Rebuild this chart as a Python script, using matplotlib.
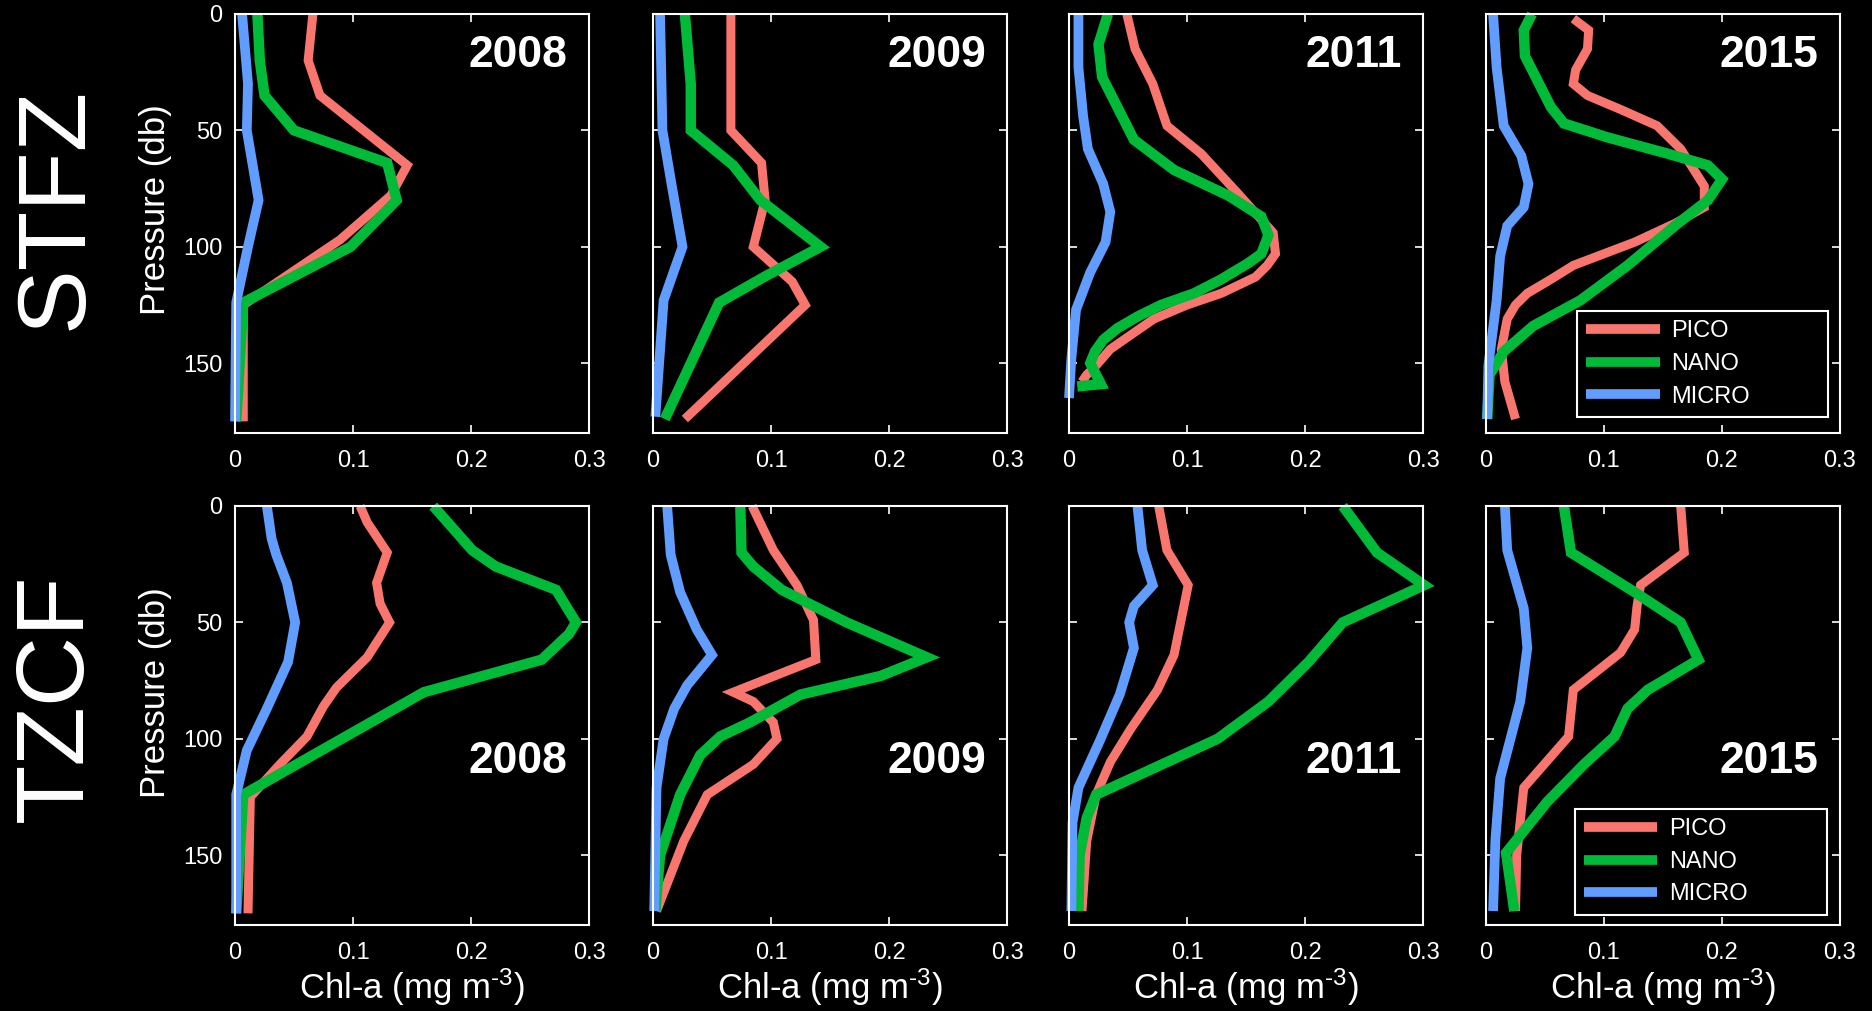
import matplotlib
matplotlib.use('Agg')
import matplotlib.pyplot as plt

plt.rcParams['font.family'] = ['Liberation Sans', 'DejaVu Sans']
plt.rcParams['mathtext.fontset'] = 'custom'
plt.rcParams['mathtext.rm'] = 'Liberation Sans'
plt.rcParams['mathtext.it'] = 'Liberation Sans:italic'

years = ['2008', '2009', '2011', '2015']
zones = ['STFZ', 'TZCF']
groups = ['PICO', 'NANO', 'MICRO']

# ---- STFZ ----
stfz08_pico_z = [0, 20, 35, 65, 78, 97, 125, 175]
stfz08_pico = [0.066, 0.062, 0.072, 0.146, 0.132, 0.089, 0.007, 0.007]
stfz08_nano_z = [0, 20, 35, 50, 64, 80, 100, 124, 175]
stfz08_nano = [0.019, 0.021, 0.025, 0.050, 0.129, 0.137, 0.098, 0.007, 0.001]
stfz08_micro_z = [0, 30, 50, 80, 100, 124, 175]
stfz08_micro = [0.006, 0.011, 0.010, 0.020, 0.011, 0.001, 0.0]

stfz09_pico_z = [0, 50, 64, 80, 100, 115, 125, 174]
stfz09_pico = [0.066, 0.066, 0.092, 0.095, 0.085, 0.118, 0.129, 0.027]
stfz09_nano_z = [0, 30, 50, 65, 80, 100, 113, 124, 174]
stfz09_nano = [0.027, 0.032, 0.032, 0.068, 0.091, 0.142, 0.094, 0.056, 0.010]
stfz09_micro_z = [0, 50, 74, 100, 123, 173]
stfz09_micro = [0.006, 0.008, 0.016, 0.025, 0.009, 0.002]

stfz11_pico_z = [0, 15, 30, 48, 60, 77, 94, 103, 108, 113, 120, 125, 131, 138, 144, 151, 155, 158]
stfz11_pico = [0.049, 0.056, 0.071, 0.083, 0.112, 0.143, 0.173, 0.175, 0.168, 0.158, 0.129, 0.100,
               0.072, 0.052, 0.035, 0.023, 0.015, 0.011]
stfz11_nano_z = [0, 13, 27, 40, 54, 67, 78, 87, 95, 103, 107, 114, 120, 125, 130, 135, 140, 145,
                 150, 159, 160]
stfz11_nano = [0.033, 0.025, 0.028, 0.041, 0.055, 0.089, 0.135, 0.163, 0.169, 0.163, 0.152, 0.129,
               0.106, 0.078, 0.058, 0.041, 0.029, 0.022, 0.018, 0.027, 0.007]
stfz11_micro_z = [0, 23, 44, 58, 73, 85, 98, 111, 127, 148, 165]
stfz11_micro = [0.008, 0.008, 0.012, 0.016, 0.029, 0.035, 0.031, 0.018, 0.006, 0.002, 0.0]

stfz15_pico_z = [2, 7, 15, 24, 30, 35, 41, 48, 58, 74, 83, 90, 94, 98, 103, 108, 114, 120, 125,
                 131, 144, 158, 174]
stfz15_pico = [0.074, 0.087, 0.086, 0.076, 0.074, 0.086, 0.114, 0.145, 0.165, 0.185, 0.185, 0.160,
               0.143, 0.126, 0.100, 0.074, 0.055, 0.035, 0.025, 0.018, 0.013, 0.016, 0.025]
stfz15_nano_z = [0, 7, 18, 30, 40, 47, 53, 60, 65, 71, 80, 91, 108, 123, 134, 145, 155, 174]
stfz15_nano = [0.039, 0.032, 0.033, 0.045, 0.055, 0.066, 0.103, 0.154, 0.188, 0.200, 0.188, 0.160,
               0.120, 0.080, 0.040, 0.015, 0.003, 0.001]
stfz15_micro_z = [0, 23, 48, 61, 73, 83, 91, 104, 123, 151, 174]
stfz15_micro = [0.006, 0.009, 0.015, 0.030, 0.036, 0.032, 0.018, 0.012, 0.009, 0.002, 0.001]

# ---- TZCF ----
tzcf08_pico_z = [0, 7, 20, 33, 42, 50, 65, 78, 86, 99, 111, 125, 175]
tzcf08_pico = [0.106, 0.112, 0.129, 0.120, 0.123, 0.131, 0.112, 0.086, 0.075, 0.061, 0.038, 0.013, 0.011]
tzcf08_nano_z = [0, 19, 26, 36, 50, 55, 66, 80, 124, 175]
tzcf08_nano = [0.168, 0.201, 0.221, 0.272, 0.289, 0.283, 0.260, 0.160, 0.007, 0.001]
tzcf08_micro_z = [0, 14, 21, 33, 50, 67, 87, 105, 124, 175]
tzcf08_micro = [0.027, 0.031, 0.035, 0.044, 0.051, 0.045, 0.027, 0.010, 0.001, 0.001]

tzcf09_pico_z = [0, 19, 34, 49, 66, 80, 84, 93, 100, 111, 124, 144, 174]
tzcf09_pico = [0.084, 0.102, 0.122, 0.136, 0.138, 0.068, 0.085, 0.102, 0.105, 0.085, 0.046, 0.026, 0.003]
tzcf09_nano_z = [0, 20, 26, 36, 50, 65, 73, 81, 93, 99, 107, 124, 150, 174]
tzcf09_nano = [0.074, 0.075, 0.085, 0.109, 0.164, 0.232, 0.193, 0.125, 0.082, 0.057, 0.040, 0.023, 0.006, 0.002]
tzcf09_micro_z = [0, 21, 37, 53, 64, 77, 87, 100, 121, 174]
tzcf09_micro = [0.012, 0.015, 0.023, 0.037, 0.050, 0.029, 0.018, 0.009, 0.003, 0.001]

tzcf11_pico_z = [0, 19, 34, 49, 64, 79, 96, 110, 124, 144, 174]
tzcf11_pico = [0.076, 0.083, 0.101, 0.095, 0.089, 0.075, 0.052, 0.035, 0.023, 0.015, 0.011]
tzcf11_nano_z = [0, 20, 34, 50, 67, 84, 100, 124, 134, 150, 174]
tzcf11_nano = [0.232, 0.261, 0.301, 0.232, 0.203, 0.169, 0.126, 0.023, 0.015, 0.009, 0.008]
tzcf11_micro_z = [0, 19, 34, 43, 50, 61, 81, 101, 121, 136, 174]
tzcf11_micro = [0.058, 0.062, 0.071, 0.055, 0.051, 0.055, 0.043, 0.026, 0.008, 0.003, 0.002]

tzcf15_pico_z = [0, 20, 34, 43, 53, 63, 79, 99, 121, 150, 174]
tzcf15_pico = [0.165, 0.168, 0.131, 0.128, 0.126, 0.114, 0.074, 0.070, 0.032, 0.026, 0.025]
tzcf15_nano_z = [0, 20, 37, 50, 66, 79, 87, 99, 111, 127, 149, 174]
tzcf15_nano = [0.066, 0.072, 0.126, 0.165, 0.180, 0.137, 0.120, 0.109, 0.083, 0.052, 0.017, 0.024]
tzcf15_micro_z = [0, 19, 44, 61, 84, 117, 143, 174]
tzcf15_micro = [0.016, 0.018, 0.032, 0.035, 0.029, 0.012, 0.008, 0.006]

panels = [
    [(stfz08_pico_z, stfz08_pico, stfz08_nano_z, stfz08_nano, stfz08_micro_z, stfz08_micro),
     (stfz09_pico_z, stfz09_pico, stfz09_nano_z, stfz09_nano, stfz09_micro_z, stfz09_micro),
     (stfz11_pico_z, stfz11_pico, stfz11_nano_z, stfz11_nano, stfz11_micro_z, stfz11_micro),
     (stfz15_pico_z, stfz15_pico, stfz15_nano_z, stfz15_nano, stfz15_micro_z, stfz15_micro)],
    [(tzcf08_pico_z, tzcf08_pico, tzcf08_nano_z, tzcf08_nano, tzcf08_micro_z, tzcf08_micro),
     (tzcf09_pico_z, tzcf09_pico, tzcf09_nano_z, tzcf09_nano, tzcf09_micro_z, tzcf09_micro),
     (tzcf11_pico_z, tzcf11_pico, tzcf11_nano_z, tzcf11_nano, tzcf11_micro_z, tzcf11_micro),
     (tzcf15_pico_z, tzcf15_pico, tzcf15_nano_z, tzcf15_nano, tzcf15_micro_z, tzcf15_micro)],
]

colors = ['#F8766D', '#00BA38', '#619CFF']
widths = [6.5, 7.5, 7.0]

W, H = 1872, 1011
fig = plt.figure(figsize=(W / 100, H / 100), dpi=100, facecolor='black')

col_left = [235, 653, 1069, 1486]
row_top = [14, 506]
aw, ah = 354, 419

for r in range(2):
    for c in range(4):
        x0 = col_left[c] / W
        y0 = 1 - (row_top[r] + ah) / H
        ax = fig.add_axes([x0, y0, aw / W, ah / H], facecolor='black')
        d = panels[r][c]
        for k in range(3):
            ax.plot(d[2 * k + 1], d[2 * k], color=colors[k], lw=widths[k],
                    solid_capstyle='butt', solid_joinstyle='miter', clip_on=False,
                    label=groups[k])
        ax.set_xlim(0, 0.3)
        ax.set_ylim(180, 0)
        ax.set_xticks([0, 0.1, 0.2, 0.3])
        ax.set_xticklabels(['0', '0.1', '0.2', '0.3'])
        ax.set_yticks([0, 50, 100, 150])
        for s in ax.spines.values():
            s.set_color('white')
            s.set_linewidth(1.5)
        ax.tick_params(direction='in', length=6, width=1.2, colors='white',
                       top=True, right=True, labelsize=17)
        ax.tick_params(axis='x', pad=12)
        ax.tick_params(axis='y', pad=9)
        if c > 0:
            ax.set_yticklabels([])
        if r == 0:
            ax.text(0.94, 0.95, years[c], transform=ax.transAxes, ha='right', va='top',
                    fontsize=32, fontweight='bold', color='white')
        else:
            ax.text(0.94, 0.39, years[c], transform=ax.transAxes, ha='right', va='center',
                    fontsize=32, fontweight='bold', color='white')
            ax.text(0.5, -0.148, 'Chl-a (mg m$^{\u20103}$)', transform=ax.transAxes,
                    ha='center', va='center', fontsize=25, color='white')
        if c == 3:
            if r == 0:
                bb = (0.257, 0.038, 0.709, 0.251)
            else:
                bb = (0.251, 0.024, 0.712, 0.255)
            leg = ax.legend(loc='lower left', bbox_to_anchor=bb, mode='expand',
                            borderaxespad=0, fontsize=17, handlelength=3.1,
                            handletextpad=0.5, labelspacing=0.45, borderpad=0.4,
                            fancybox=False, framealpha=1, facecolor='black',
                            edgecolor='white', labelcolor='white')
            leg.get_frame().set_linewidth(1.5)
            for h in leg.get_lines():
                h.set_linewidth(7)

# zone labels and pressure labels
fig.text(57 / W, 1 - 208 / H, 'STFZ', rotation=90, ha='center', va='center',
         fontsize=70, color='white')
fig.text(57 / W, 1 - 698 / H, 'TZCF', rotation=90, ha='center', va='center',
         fontsize=70, color='white')
fig.text(155 / W, 1 - 210 / H, 'Pressure (db)', rotation=90, ha='center', va='center',
         fontsize=25, color='white')
fig.text(155 / W, 1 - 693 / H, 'Pressure (db)', rotation=90, ha='center', va='center',
         fontsize=25, color='white')

fig.savefig('out.png', dpi=100, facecolor='black')
